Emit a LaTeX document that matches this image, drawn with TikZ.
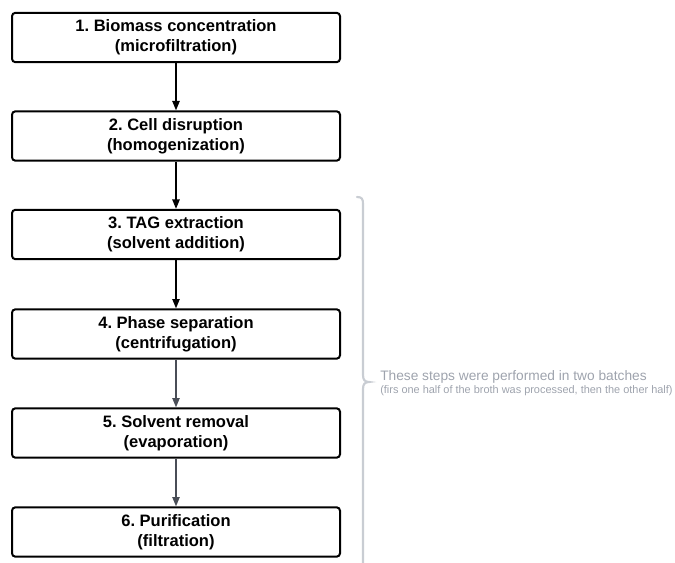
\documentclass[tikz,border=0pt]{standalone}
\usepackage{fontspec}
\setmainfont{Liberation Sans}
\usetikzlibrary{arrows.meta}
\definecolor{notegray}{HTML}{9EA3AD}
\definecolor{bracegray}{HTML}{C9CDD3}
\definecolor{arrowdark}{HTML}{4A4E57}
\frenchspacing
\begin{document}
\begin{tikzpicture}[x=0.75pt,y=-0.75pt,
  stepbox/.style={draw=black,line width=1.5pt,rounded corners=2.5pt,minimum width=246pt,minimum height=37pt,align=center,font=\bfseries\fontsize{12.4}{15}\selectfont,inner sep=0pt},
  flow/.style={-{Triangle[length=7pt,width=5.5pt]},line width=1pt,draw=black},
  flowgray/.style={-{Triangle[length=7pt,width=5.5pt]},line width=1pt,draw=arrowdark,fill=arrowdark}]
\useasboundingbox (0,0) rectangle (675,563);
\node[stepbox] (s1) at (176,37.5) {1. Biomass concentration\\(microfiltration)};
\node[stepbox] (s2) at (176,136) {2. Cell disruption\\(homogenization)};
\node[stepbox] (s3) at (176,234.5) {3. TAG extraction\\(solvent addition)};
\node[stepbox] (s4) at (176,334) {4. Phase separation\\(centrifugation)};
\node[stepbox] (s5) at (176,433) {5. Solvent removal\\(evaporation)};
\node[stepbox] (s6) at (176,532) {6. Purification\\(filtration)};
\draw[flow] (s1) -- (s2);
\draw[flow] (s2) -- (s3);
\draw[flow] (s3) -- (s4);
\draw[flowgray] (s4) -- (s5);
\draw[flowgray] (s5) -- (s6);
\draw[bracegray,line width=1.6pt,line cap=round] (357,197) .. controls (362,197) and (363,199) .. (363,204)
  -- (363,375) .. controls (363,380) and (365,382) .. (369,382)
  .. controls (365,382) and (363,384) .. (363,389) -- (363,563);
\node[anchor=base west,inner sep=0pt,text=notegray,font=\fontsize{10.3}{12}\selectfont] (n1) at (380,380) {These steps were performed in two batches};
\node[anchor=base west,inner sep=0pt,text=notegray,font=\fontsize{8.2}{9}\selectfont] (n2) at (380,393.5) {(firs one half of the broth was processed, then the other half)};
\end{tikzpicture}
\end{document}
